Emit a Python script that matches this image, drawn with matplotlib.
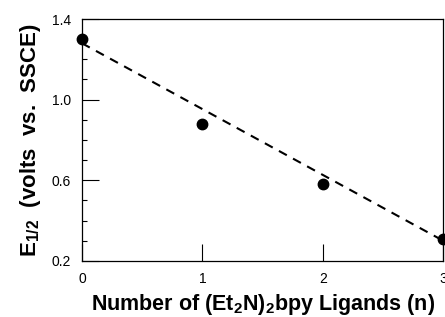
import matplotlib
matplotlib.use('Agg')
import matplotlib.pyplot as plt
from matplotlib.ticker import MultipleLocator

plt.rcParams['font.family'] = ['Liberation Sans', 'DejaVu Sans']
plt.rcParams['mathtext.fontset'] = 'custom'
plt.rcParams['mathtext.rm'] = 'Liberation Sans'
plt.rcParams['mathtext.bf'] = 'Liberation Sans:bold'

# data
n_ligands = [0, 1, 2, 3]
e_half = [1.30, 0.88, 0.58, 0.31]
# dashed fit line, ends
fit_x = [0, 3]
fit_y = [1.28, 0.30]

fig = plt.figure(figsize=(4.45, 3.17), dpi=100)
ax = fig.add_axes([0.184, 0.177, 0.812, 0.763])

ax.plot(fit_x, fit_y, color='black', ls=(0, (4.3, 3.4)), lw=1.5)
ax.plot(n_ligands, e_half, 'o', color='black', ms=7.5, clip_on=False, zorder=5)

ax.set_xlim(0, 3)
ax.set_ylim(0.2, 1.4)
ax.set_xticks([0, 1, 2, 3])
ax.set_yticks([0.2, 0.6, 1.0, 1.4])
ax.set_yticklabels(['0.2', '0.6', '1.0', '1.4'])
ax.yaxis.set_minor_locator(MultipleLocator(0.1))
ax.tick_params(which='major', direction='in', length=12, width=0.8, labelsize=10)
ax.tick_params(which='minor', direction='in', length=3.6, width=0.8)
ax.tick_params(axis='x', pad=8)
ax.tick_params(axis='y', pad=8)
for sp in ax.spines.values():
    sp.set_linewidth(0.9)

ax.set_xlabel(r'Number of (Et$_{\mathbf{2}}$N)$_{\mathbf{2}}$bpy Ligands (n)',
              fontsize=15.5, fontweight='bold', labelpad=4)
ax.set_ylabel(r'E$_{\mathbf{1/2}}$  (volts  vs.  SSCE)',
              fontsize=16, fontweight='bold', labelpad=6)

plt.savefig('out.png', dpi=100)
